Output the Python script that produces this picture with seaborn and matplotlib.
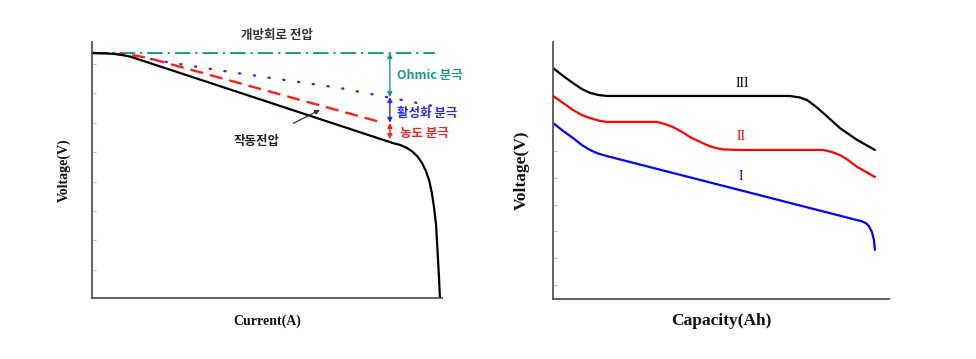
import matplotlib.pyplot as plt
import numpy as np
import seaborn as sns

# ---------------- data (arbitrary units, 0-100 on both axes) ----------------
# left: polarization curve
ocv_x = [0, 98]
ocv_y = [95.7, 95.7]

act_x = [0, 10.9, 19.4, 39.4, 70.9, 97.4]          # blue dotted (activation)
act_y = [95.7, 95.1, 92.6, 88.3, 82.0, 75.0]

ohm_x = [0, 8.0, 12.3, 15.7, 82.3]                  # red dashed (ohmic)
ohm_y = [95.7, 95.3, 94.7, 93.9, 68.75]

op_x = [0, 3.7, 6.6, 8.6, 10.9, 86.0, 88.0, 90.0, 91.7, 93.1, 94.3, 95.4,
        96.3, 97.1, 97.7, 98.3, 98.7, 99.1, 99.4]
op_y = [95.7, 95.6, 95.3, 94.9, 94.3, 60.5, 59.8, 58.6, 57.0, 55.1, 52.7,
        49.6, 46.1, 41.0, 35.5, 28.5, 18.75, 9.0, 0]

# arrow levels on the right side of the left chart
arrow_x = 85.1
lvl_ocv, lvl_act, lvl_ohm, lvl_op = 95.7, 78.5, 68.4, 62.1

# right: discharge curves
c3_x = [0, 3.0, 6.0, 8.6, 11.0, 13.4, 16.1, 70.5, 73.5, 75.6, 78.0, 80.4,
        85.4, 90.5, 95.8]
c3_y = [89.9, 86.8, 84.0, 81.7, 80.2, 79.4, 79.0, 79.0, 78.4, 77.4, 75.1,
        72.4, 66.5, 61.9, 58.0]

c2_x = [0, 3.0, 6.0, 8.6, 11.0, 14.0, 16.1, 31.0, 33.3, 35.7, 38.4, 40.8,
        43.2, 45.8, 48.2, 50.6, 55.7, 80.4, 83.0, 85.4, 87.8, 90.5, 93.2, 95.8]
c2_y = [79.0, 76.3, 73.5, 71.6, 70.4, 69.3, 68.9, 68.9, 68.1, 66.9, 65.0,
        63.0, 61.5, 59.9, 58.8, 58.2, 58.0, 58.0, 57.2, 56.0, 54.1, 51.4,
        49.4, 47.5]

c1_x = [0, 3.0, 6.0, 8.6, 11.0, 13.4, 16.1, 90.5, 92.0, 93.2, 94.0, 94.9,
        95.5, 95.8]
c1_y = [68.5, 65.4, 62.6, 59.9, 58.0, 56.6, 55.6, 30.7, 30.2, 29.4, 28.4,
        26.1, 23.0, 19.1]

TEAL = "#1a9a8a"
BLUE = "#2a2af2"
RED = "#ff1f1f"
SPINE = "#555555"

sns.set_theme(style="white")
plt.rcParams["font.family"] = ["Noto Sans CJK KR", "DejaVu Sans"]
KR = ["Noto Sans CJK KR", "DejaVu Sans"]
SERIF = "Liberation Serif"

fig = plt.figure(figsize=(9.76, 3.59), dpi=100)
ax1 = fig.add_axes([0.0943, 0.1699, 0.3586, 0.7131])
ax2 = fig.add_axes([0.5666, 0.1671, 0.3443, 0.7159])

# ---------------- left chart ----------------
sns.lineplot(x=ocv_x, y=ocv_y, ax=ax1, color=TEAL, lw=1.4, sort=False,
             estimator=None, linestyle=(0, (8, 2.5, 1.2, 2.5)))
sns.lineplot(x=act_x, y=act_y, ax=ax1, color=BLUE, lw=1.7, sort=False,
             estimator=None, linestyle=(0, (0.5, 5.8)),
             solid_capstyle="round", dash_capstyle="round")
sns.lineplot(x=ohm_x, y=ohm_y, ax=ax1, color=RED, lw=1.7, sort=False,
             estimator=None, linestyle=(0, (5.5, 3)))
sns.lineplot(x=op_x, y=op_y, ax=ax1, color="black", lw=1.6, sort=False,
             estimator=None)

for (y0, y1, c) in [(lvl_ocv, lvl_act, TEAL), (lvl_act, lvl_ohm, BLUE),
                    (lvl_ohm, lvl_op, RED)]:
    ax1.annotate("", xy=(arrow_x, y1), xytext=(arrow_x, y0),
                 arrowprops=dict(arrowstyle="<|-|>", color=c, lw=1.0,
                                 mutation_scale=7, shrinkA=0, shrinkB=0))

ax1.text(52.9, 102.7, "개방회로 전압", ha="center", va="center", fontsize=9,
         fontweight="bold", color="#333333", family=KR, clip_on=False)
ax1.text(87.1, 87.1, "Ohmic 분극", ha="left", va="center", fontsize=9,
         fontweight="bold", color=TEAL, family=KR, clip_on=False)
ax1.text(87.1, 72.0, "활성화 분극", ha="left", va="center", fontsize=9,
         fontweight="bold", color=BLUE, family=KR, clip_on=False)
ax1.text(88.0, 64.3, "농도 분극", ha="left", va="center", fontsize=9,
         fontweight="bold", color=RED, family=KR, clip_on=False)
ax1.annotate("작동전압", xy=(65.1, 73.5), xytext=(47.1, 61.0),
             ha="center", va="center", fontsize=9, fontweight="bold",
             color="#222222", family=KR,
             arrowprops=dict(arrowstyle="-|>", color="#333333", lw=0.9,
                             mutation_scale=7, shrinkA=14, shrinkB=0))

# ---------------- right chart ----------------
sns.lineplot(x=c3_x, y=c3_y, ax=ax2, color="black", lw=1.6, sort=False,
             estimator=None)
sns.lineplot(x=c2_x, y=c2_y, ax=ax2, color="#ff0000", lw=1.6, sort=False,
             estimator=None)
sns.lineplot(x=c1_x, y=c1_y, ax=ax2, color="#0000ff", lw=1.6, sort=False,
             estimator=None)

ax2.text(56.3, 84.0, "III", ha="center", va="center", fontsize=10,
         family=SERIF, color="black")
ax2.text(56.0, 63.4, "II", ha="center", va="center", fontsize=10,
         family=SERIF, color="#ff0000")
ax2.text(56.0, 47.5, "I", ha="center", va="center", fontsize=10,
         family=SERIF, color="#0000ff")

# ---------------- axes styling ----------------
for ax in (ax1, ax2):
    ax.set_xlim(0, 100)
    ax.set_ylim(0, 100)
    for s in ("top", "right"):
        ax.spines[s].set_visible(False)
    for s in ("left", "bottom"):
        ax.spines[s].set_color(SPINE)
        ax.spines[s].set_linewidth(1.3)
    ax.set_xticks([])
    ax.tick_params(axis="y", direction="in", length=3, width=0.8,
                   color="#c0c0c0", labelleft=False, left=True)

ax1.set_yticks(np.arange(11, 95, 11.5))
ax2.set_yticks(np.arange(5.4, 95, 10.45))

# seaborn hides axis labels when tick labels are hidden, so force visible
ax1.set_xlabel("Current(A)", family=SERIF, fontweight="bold", fontsize=10,
               labelpad=12, color="#111111", visible=True)
ax1.set_ylabel("Voltage(V)", family=SERIF, fontweight="bold", fontsize=10,
               labelpad=15, color="#111111", visible=True)
ax2.set_xlabel("Capacity(Ah)", family=SERIF, fontweight="bold", fontsize=12.5,
               labelpad=10, color="#111111", visible=True)
ax2.set_ylabel("Voltage(V)", family=SERIF, fontweight="bold", fontsize=12.5,
               labelpad=17, color="#111111", visible=True)

fig.savefig("out.png", dpi=100)
